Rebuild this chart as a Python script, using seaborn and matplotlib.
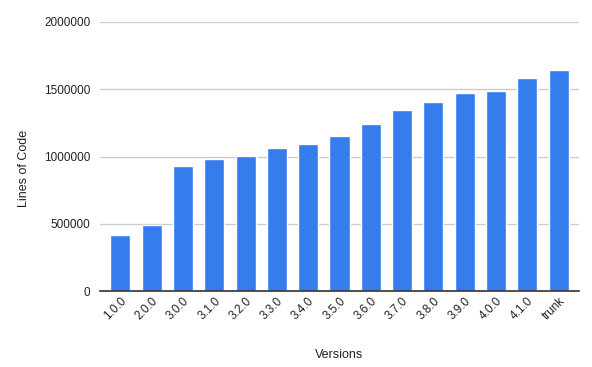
import matplotlib
matplotlib.use("Agg")
import matplotlib.pyplot as plt
import seaborn as sns
import pandas as pd

versions = ["1.0.0", "2.0.0", "3.0.0", "3.1.0", "3.2.0", "3.3.0", "3.4.0", "3.5.0",
            "3.6.0", "3.7.0", "3.8.0", "3.9.0", "4.0.0", "4.1.0", "trunk"]
loc = [418000, 493000, 933000, 978000, 1007000, 1060000, 1090000, 1149000,
       1239000, 1343000, 1403000, 1470000, 1485000, 1582000, 1642000]
yticks = [0, 500000, 1000000, 1500000, 2000000]

sns.set_style("white")
plt.rcParams['font.family'] = ['Liberation Sans', 'DejaVu Sans']

df = pd.DataFrame({"Versions": versions, "Lines of Code": loc})

fig = plt.figure(figsize=(5.92, 3.67), dpi=100)
ax = fig.add_axes([100/592, 1-291/367, 479/592, 269/367])
sns.barplot(data=df, x="Versions", y="Lines of Code", color="#357ded",
            saturation=1, width=0.64, ax=ax, zorder=3)
ax.set_xlim(-0.65, 14.65)
ax.set_ylim(0, 2000000)
ax.set_yticks(yticks)
ax.set_yticklabels([str(v) for v in yticks])
ax.grid(axis="y", color="#cccccc", linewidth=1, zorder=0)
for s in ["top", "right", "left"]:
    ax.spines[s].set_visible(False)
ax.spines["bottom"].set_color("#333333")
ax.spines["bottom"].set_linewidth(1.2)
ax.spines["bottom"].set_zorder(4)
ax.tick_params(axis="y", length=0, pad=7, labelsize=8.5, labelcolor="#222222")
ax.tick_params(axis="x", length=0, pad=3, labelsize=8.5, labelcolor="#222222")
for lab in ax.get_xticklabels():
    lab.set_rotation(45)
    lab.set_ha("right")
    lab.set_rotation_mode("anchor")
ax.set_xlabel("Versions", fontsize=9, color="#222222", labelpad=19)
ax.set_ylabel("Lines of Code", fontsize=9, color="#222222")
ax.yaxis.set_label_coords(-0.146, 0.457)
fig.savefig("out.png", dpi=100)
